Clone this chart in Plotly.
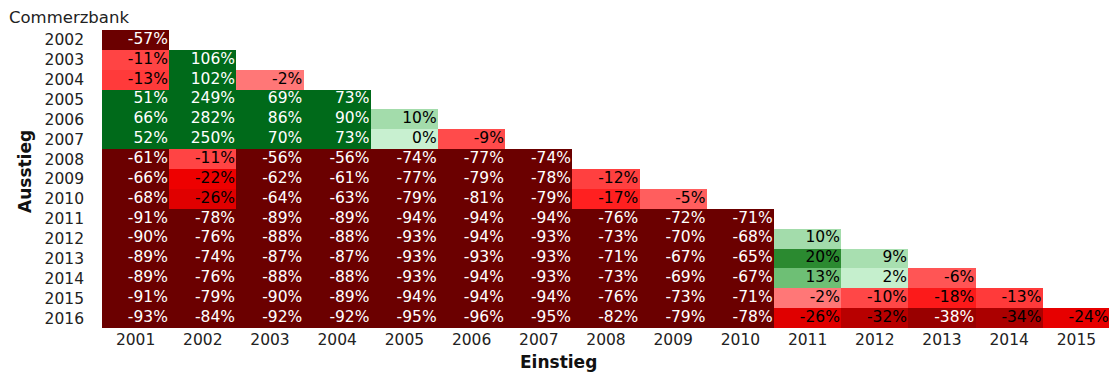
import plotly.graph_objects as go
import numpy as np

title = "Commerzbank"
x_title = "Einstieg"
y_title = "Ausstieg"
entry_years = list(range(2001, 2016))
exit_years = list(range(2002, 2017))

rows = [
    [-57],
    [-11, 106],
    [-13, 102, -2],
    [51, 249, 69, 73],
    [66, 282, 86, 90, 10],
    [52, 250, 70, 73, 0, -9],
    [-61, -11, -56, -56, -74, -77, -74],
    [-66, -22, -62, -61, -77, -79, -78, -12],
    [-68, -26, -64, -63, -79, -81, -79, -17, -5],
    [-91, -78, -89, -89, -94, -94, -94, -76, -72, -71],
    [-90, -76, -88, -88, -93, -94, -93, -73, -70, -68, 10],
    [-89, -74, -87, -87, -93, -93, -93, -71, -67, -65, 20, 9],
    [-89, -76, -88, -88, -93, -94, -93, -73, -69, -67, 13, 2, -6],
    [-91, -79, -90, -89, -94, -94, -94, -76, -73, -71, -2, -10, -18, -13],
    [-93, -84, -92, -92, -95, -96, -95, -82, -79, -78, -26, -32, -38, -34, -24],
]

zmin, zmax = -45, 50
stops = [
    (-45, "#6b0000"),
    (-38, "#990000"),
    (-33, "#b00000"),
    (-27, "#dd0000"),
    (-22, "#ee0000"),
    (-17, "#ff2020"),
    (-12, "#ff4040"),
    (-6, "#ff5555"),
    (-1, "#ff8080"),
    (0, "#c8f0d0"),
    (3, "#c3eecb"),
    (10, "#a3dcab"),
    (13, "#6ebf75"),
    (20, "#2b8a30"),
    (50, "#006a1a"),
]
colorscale = [[(v - zmin) / (zmax - zmin), c] for v, c in stops]

n = len(exit_years)
m = len(entry_years)
z = np.full((n, m), np.nan)
for i, r in enumerate(rows):
    for j, v in enumerate(r):
        z[i, j] = v
zc = np.clip(z, zmin, zmax)

fig = go.Figure()
fig.add_trace(go.Heatmap(
    x=entry_years, y=exit_years, z=zc,
    colorscale=colorscale, zmin=zmin, zmax=zmax,
    showscale=False, hoverinfo="skip", xgap=0, ygap=0,
))

tx, ty, tt, tc = [], [], [], []
for i, r in enumerate(rows):
    for j, v in enumerate(r):
        tx.append(entry_years[j] + 0.48)
        ty.append(exit_years[i])
        tt.append(f"{v}%")
        tc.append("white" if (v <= -36 or v >= 40) else "black")

fig.add_trace(go.Scatter(
    x=tx, y=ty, text=tt, mode="text", textposition="middle left",
    textfont=dict(family="DejaVu Sans", size=15.5, color=tc),
    hoverinfo="skip", showlegend=False, cliponaxis=False,
))

# the page body has an 8px margin, so the figure is sized to fit inside it
fig.update_layout(
    width=1109, height=369,
    margin=dict(l=94, r=7, t=22, b=49),
    paper_bgcolor="white", plot_bgcolor="white",
    font=dict(family="DejaVu Sans", size=15.5, color="#222"),
    showlegend=False,
    annotations=[
        dict(text=title, x=0, y=1, xref="paper", yref="paper",
             xanchor="left", yanchor="middle", xshift=-94, yshift=13,
             showarrow=False, borderpad=0, font=dict(size=16.5, color="#222")),
        dict(text=f"<b>{x_title}</b>", x=0.5, y=0, xref="paper", yref="paper",
             xanchor="center", yanchor="middle", xshift=-48, yshift=-34,
             showarrow=False, font=dict(size=17, color="#111")),
        dict(text=f"<b>{y_title}</b>", x=0, y=0.5, xref="paper", yref="paper",
             xanchor="center", yanchor="middle", xshift=-77, yshift=7, textangle=-90,
             showarrow=False, font=dict(size=17, color="#111")),
    ],
)
fig.update_xaxes(range=[2000.5, 2015.5], tickmode="array", tickvals=entry_years,
                 ticktext=[str(v) for v in entry_years], showgrid=False, zeroline=False,
                 automargin=False, ticks="", showline=False)
fig.update_yaxes(range=[2016.5, 2001.5], tickmode="array", tickvals=exit_years,
                 ticktext=[str(v) for v in exit_years], showgrid=False, zeroline=False,
                 automargin=False, ticks="", showline=False, ticklabelstandoff=17)

fig.write_html("out.html")
